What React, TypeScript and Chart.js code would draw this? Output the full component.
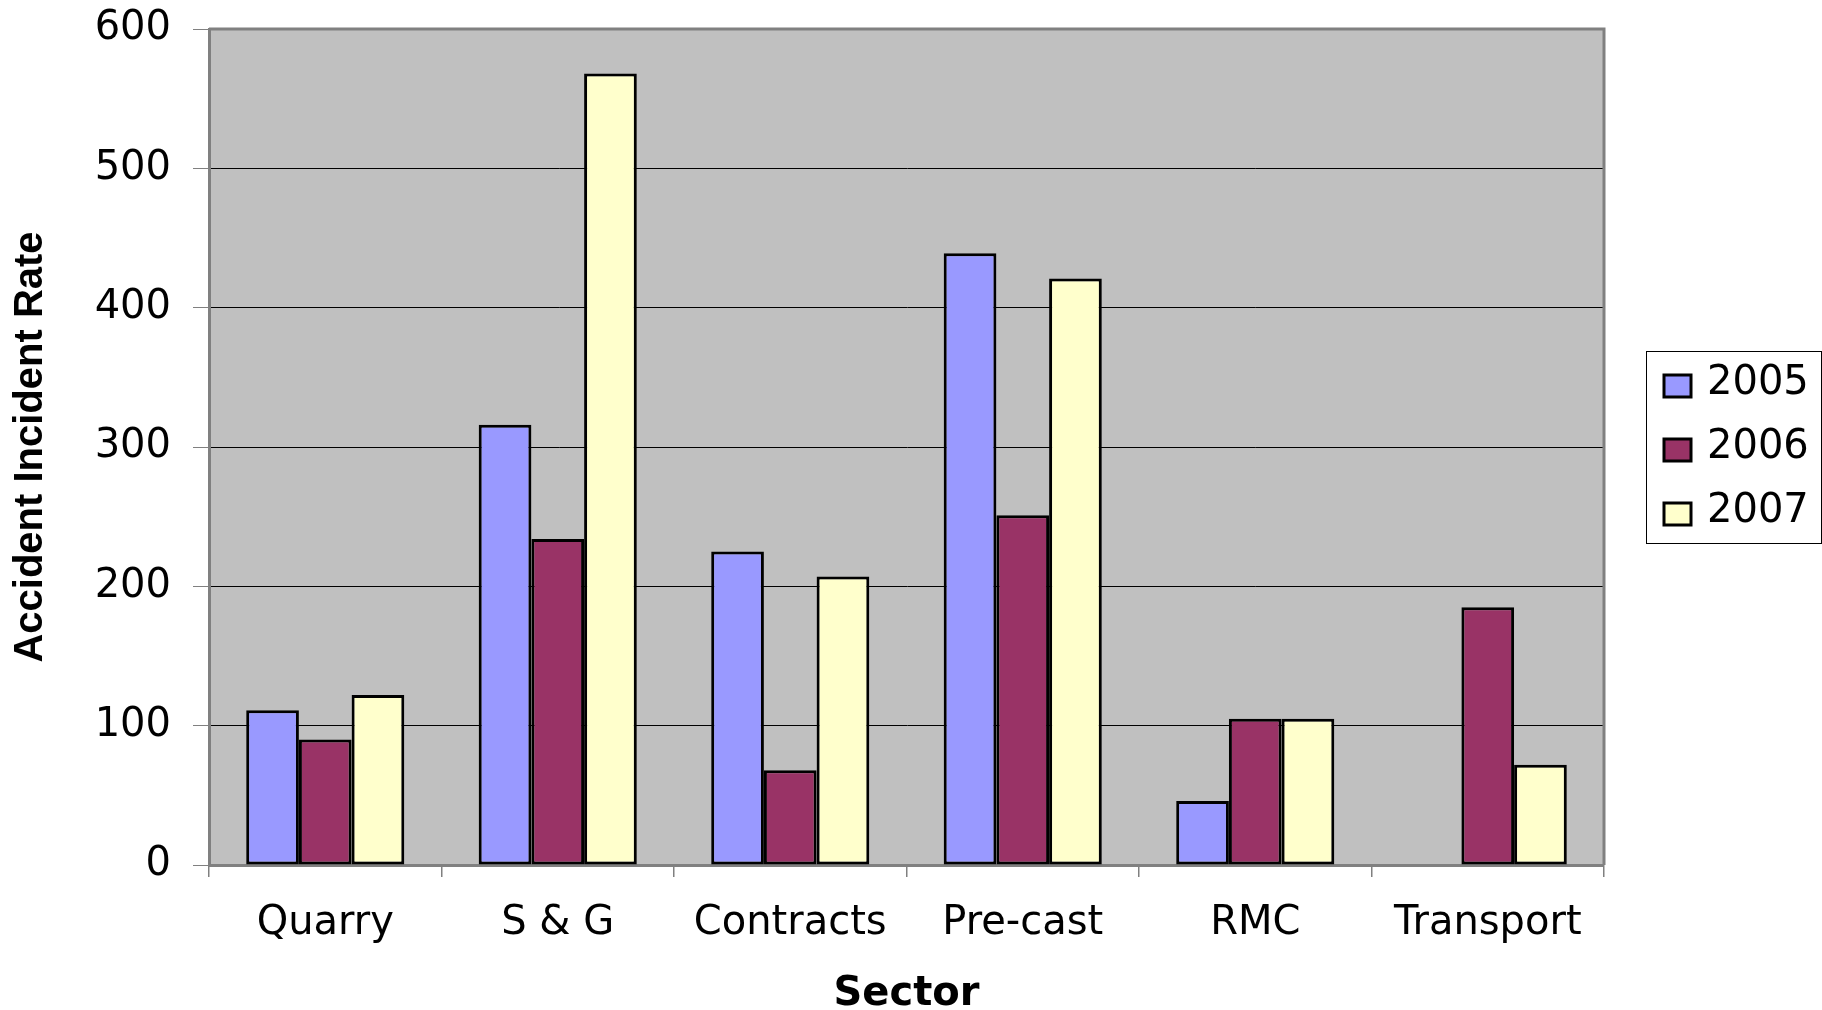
import React, { useEffect, useRef } from 'react';
import { Chart, registerables } from 'chart.js';

Chart.register(...registerables);

const categories = ['Quarry', 'S & G', 'Contracts', 'Pre-cast', 'RMC', 'Transport'];
const seriesLabels = ['2005', '2006', '2007'];
const values2005 = [111, 316, 225, 439, 46, null];
const values2006 = [90, 234, 68, 251, 105, 185];
const values2007 = [122, 568, 207, 421, 105, 72];
const seriesColors = ['#9999FF', '#993366', '#FFFFCC'];
const yMin = 0;
const yMax = 600;
const yStep = 100;
const xTitle = 'Sector';
const yTitle = 'Accident Incident Rate';

const FONT = "'DejaVu Sans'";
const TITLE_FONT = "'Liberation Sans'";

const framePlugin = {
  id: 'plotFrame',
  beforeDraw(chart: any) {
    const { ctx, chartArea: a } = chart;
    ctx.save();
    ctx.fillStyle = '#ffffff';
    ctx.fillRect(0, 0, chart.width, chart.height);
    ctx.fillStyle = '#C0C0C0';
    ctx.fillRect(a.left, a.top, a.right - a.left, a.bottom - a.top);
    ctx.restore();
  },
  beforeDatasetsDraw(chart: any) {
    const { ctx, chartArea: a } = chart;
    ctx.save();
    ctx.strokeStyle = '#808080';
    ctx.lineWidth = 3;
    ctx.beginPath();
    ctx.moveTo(a.left, a.top);
    ctx.lineTo(a.right, a.top);
    ctx.lineTo(a.right, a.bottom);
    ctx.stroke();
    ctx.restore();
  },
  afterDraw(chart: any) {
    const { ctx, chartArea: a } = chart;
    const sets = chart.data.datasets;
    const width = 175;
    const rowH = 64;
    const height = 192;
    const left = a.right + 42;
    const top = Math.round((a.top + a.bottom) / 2 - height / 2);
    ctx.save();
    ctx.fillStyle = '#ffffff';
    ctx.fillRect(left, top, width, height);
    ctx.strokeStyle = '#000000';
    ctx.lineWidth = 1;
    ctx.strokeRect(left + 0.5, top + 0.5, width, height);
    ctx.font = `40px ${FONT}`;
    ctx.textBaseline = 'middle';
    ctx.textAlign = 'left';
    sets.forEach((ds: any, i: number) => {
      const cy = top + 35 + i * rowH;
      ctx.fillStyle = ds.backgroundColor;
      ctx.fillRect(left + 18, cy - 11, 27, 22);
      ctx.lineWidth = 3;
      ctx.strokeStyle = '#000000';
      ctx.strokeRect(left + 18, cy - 11, 27, 22);
      ctx.fillStyle = '#000000';
      ctx.fillText(ds.label, left + 61, cy - 2);
    });
    ctx.restore();
  },
};

export default function App() {
  const canvasRef = useRef<HTMLCanvasElement | null>(null);

  useEffect(() => {
    if (!canvasRef.current) return;
    const seriesValues = [values2005, values2006, values2007];
    const chart = new Chart(canvasRef.current, {
      type: 'bar',
      data: {
        labels: categories,
        datasets: seriesLabels.map((label, i) => ({
          label,
          data: seriesValues[i],
          backgroundColor: seriesColors[i],
          borderColor: '#000000',
          borderWidth: 3,
          borderSkipped: false,
          categoryPercentage: 0.68,
          barPercentage: 1.0,
        })),
      },
      options: {
        animation: false,
        responsive: true,
        maintainAspectRatio: false,
        devicePixelRatio: 1,
        layout: { padding: { top: 29, right: 218, left: 0, bottom: 0 } },
        plugins: {
          legend: { display: false },
          tooltip: { enabled: false },
        },
        scales: {
          x: {
            offset: true,
            grid: {
              offset: true,
              drawOnChartArea: false,
              drawTicks: true,
              tickLength: 12,
              tickColor: '#808080',
              lineWidth: 1.5,
            },
            border: { color: '#808080', width: 3 },
            ticks: {
              color: '#000000',
              font: { family: FONT, size: 40 },
              padding: 23,
              maxRotation: 0,
              autoSkip: false,
            },
            title: {
              display: true,
              text: xTitle,
              color: '#000000',
              font: { family: FONT, size: 40, weight: 'bold', lineHeight: 0.75 },
              padding: { top: 0, bottom: 0 },
            },
            afterFit(scale: any) {
              scale.height = 145;
              scale.paddingLeft = 0;
              scale.paddingRight = 0;
            },
          },
          y: {
            min: yMin,
            max: yMax,
            grid: {
              color: (c: any) => (c.tick && c.tick.value === yMax ? 'rgba(0,0,0,0)' : '#000000'),
              lineWidth: 1,
              tickLength: 16,
              tickColor: '#808080',
            },
            border: { color: '#808080', width: 3 },
            ticks: {
              stepSize: yStep,
              color: '#000000',
              font: { family: FONT, size: 40 },
              padding: 22,
            },
            title: {
              display: true,
              text: yTitle,
              color: '#000000',
              font: { family: TITLE_FONT, size: 40, weight: 'bold', lineHeight: 1 },
              padding: { top: 11, bottom: 0 },
            },
            afterFit(scale: any) {
              scale.width = 209;
              scale.paddingTop = 0;
              scale.paddingBottom = 0;
            },
          },
        },
      },
      plugins: [framePlugin],
    } as any);
    return () => chart.destroy();
  }, []);

  return (
    <div style={{ position: 'absolute', left: 0, top: 0, width: 1822, height: 1010, background: '#ffffff' }}>
      <canvas ref={canvasRef} />
    </div>
  );
}
